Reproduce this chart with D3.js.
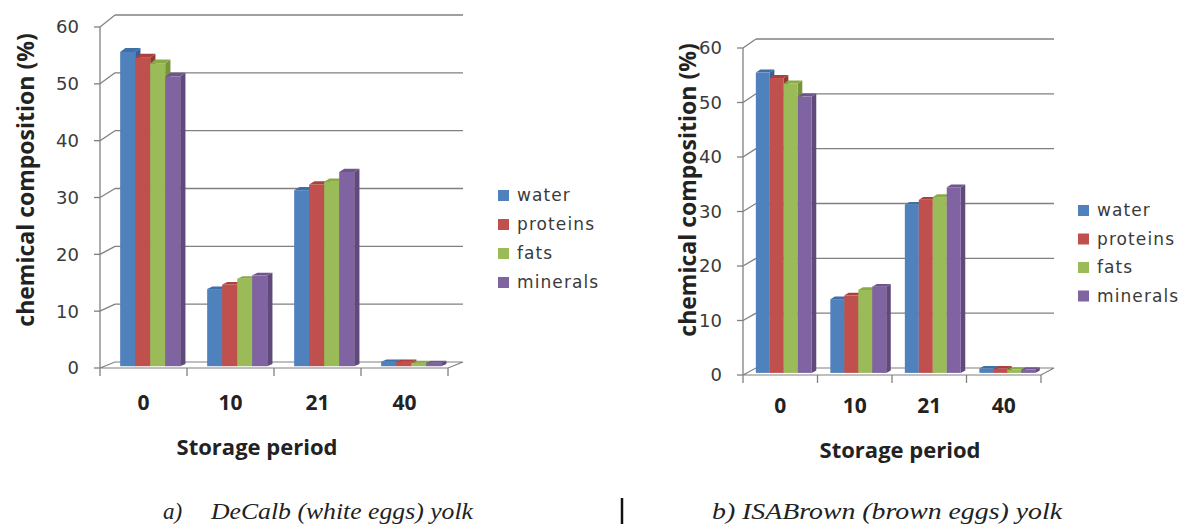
<!DOCTYPE html>
<html>
<head>
<meta charset="utf-8">
<script src="https://cdn.jsdelivr.net/npm/d3@7"></script>
<style>
  body { margin: 0; background: #fff; }
  svg { display: block; }
</style>
</head>
<body>
<svg id="chart" width="1185" height="527"></svg>
<script>
var periods = ["0", "10", "21", "40"];
var seriesNames = ["water", "proteins", "fats", "minerals"];
var seriesColors = ["#4f81bd", "#c0504d", "#9bbb59", "#8064a2"];
var yTicks = [0, 10, 20, 30, 40, 50, 60];

// a) DeCalb (white eggs) yolk
var waterA = [55.0, 13.5, 30.8, 0.8];
var proteinsA = [54.0, 14.3, 31.8, 0.8];
var fatsA = [53.0, 15.3, 32.3, 0.6];
var mineralsA = [50.7, 15.9, 34.0, 0.6];

// b) ISABrown (brown eggs) yolk
var waterB = [55.0, 13.5, 30.8, 0.8];
var proteinsB = [54.0, 14.2, 31.7, 0.8];
var fatsB = [53.0, 15.2, 32.2, 0.6];
var mineralsB = [50.6, 15.8, 34.0, 0.6];

var svg = d3.select("#chart");

function shade(c, k){
  var h = d3.hsl(c);
  return k > 0 ? h.brighter(k).formatHex() : h.darker(-k).formatHex();
}

function drawChart(g, o, values){
  var yF = d3.scaleLinear().domain([0, 60]).range([o.fy0, o.fy60]);
  var yB = d3.scaleLinear().domain([0, 60]).range([o.by0, o.by60]);
  var x0 = d3.scaleBand().domain(periods).range([o.fx0, o.fx1]);
  var bw = x0.bandwidth();
  var x1 = d3.scaleBand().domain(seriesNames)
    .range([bw * o.gStart, bw * (o.gStart + o.gWidth)]);

  // point at value v, depth t (0 front, 1 back), x in front coords
  function px(x, t){ return x + t * o.dx; }
  function py(v, t){ return yF(v) * (1 - t) + yB(v) * t; }

  var grid = "#808080";

  // floor
  g.append("path")
    .attr("d", "M" + o.fx0 + "," + yF(0) + "L" + o.fx1 + "," + yF(0) +
      "L" + (o.fx1 + o.dx) + "," + yB(0) + "L" + (o.fx0 + o.dx) + "," + yB(0) + "Z")
    .attr("fill", "#fff")
    .attr("stroke", grid)
    .attr("stroke-width", 1.2);

  // back wall and side wall gridlines
  yTicks.forEach(function(v){
    if(v == 0) return;
    g.append("line")
      .attr("x1", o.fx0 + o.dx).attr("y1", yB(v))
      .attr("x2", o.fx1 + o.dx).attr("y2", yB(v))
      .attr("stroke", grid).attr("stroke-width", 1.3);
    g.append("line")
      .attr("x1", o.fx0).attr("y1", yF(v))
      .attr("x2", o.fx0 + o.dx).attr("y2", yB(v))
      .attr("stroke", grid).attr("stroke-width", 1.3);
  });

  // y axis
  g.append("line")
    .attr("x1", o.fx0).attr("y1", yF(0))
    .attr("x2", o.fx0).attr("y2", yF(60))
    .attr("stroke", grid).attr("stroke-width", 1.3);
  yTicks.forEach(function(v){
    g.append("line")
      .attr("x1", o.fx0 - 6).attr("y1", yF(v))
      .attr("x2", o.fx0).attr("y2", yF(v))
      .attr("stroke", grid).attr("stroke-width", 1.3);
    g.append("text")
      .attr("x", o.fx0 - 21).attr("y", yF(v))
      .attr("dy", "0.36em")
      .attr("text-anchor", "end")
      .attr("font-family", "DejaVu Sans")
      .attr("font-size", 18)
      .attr("fill", "#3a3a3a")
      .text(v);
  });

  // x axis ticks
  periods.forEach(function(p, i){
    var xx = x0(p);
    g.append("line")
      .attr("x1", xx).attr("y1", yF(0))
      .attr("x2", xx).attr("y2", yF(0) + 8)
      .attr("stroke", grid).attr("stroke-width", 1.3);
    g.append("text")
      .attr("x", xx + bw / 2).attr("y", o.labelY)
      .attr("text-anchor", "middle")
      .attr("font-family", "Open Sans")
      .attr("font-weight", "bold")
      .attr("font-size", 21)
      .attr("fill", "#222")
      .text(p);
  });
  g.append("line")
    .attr("x1", o.fx1).attr("y1", yF(0))
    .attr("x2", o.fx1).attr("y2", yF(0) + 8)
    .attr("stroke", grid).attr("stroke-width", 1.3);

  // bars
  var t0 = 0.3, t1 = 0.65;
  periods.forEach(function(p, i){
    seriesNames.forEach(function(s, j){
      var v = values[j][i];
      var c = seriesColors[j];
      var xl = px(x0(p) + x1(s), t0);
      var xr = xl + x1.bandwidth();
      var d = (t1 - t0) * o.dx;
      var topF = py(v, t0), topB = py(v, t1);
      var botF = py(0, t0), botB = py(0, t1);
      g.append("path")
        .attr("d", "M" + xr + "," + topF + "L" + (xr + d) + "," + topB +
          "L" + (xr + d) + "," + botB + "L" + xr + "," + botF + "Z")
        .attr("fill", shade(c, -0.8));
      g.append("rect")
        .attr("x", xl).attr("y", topF)
        .attr("width", xr - xl).attr("height", botF - topF)
        .attr("fill", c);
      g.append("path")
        .attr("d", "M" + xl + "," + topF + "L" + xr + "," + topF +
          "L" + (xr + d) + "," + topB + "L" + (xl + d) + "," + topB + "Z")
        .attr("fill", shade(c, -0.4));
    });
  });

  // axis titles
  g.append("text")
    .attr("transform", "translate(" + o.titleX + "," + o.titleY + ") rotate(-90)")
    .attr("text-anchor", "middle")
    .attr("dy", "0.35em")
    .attr("font-family", "Open Sans")
    .attr("font-weight", "bold")
    .attr("font-size", 23)
    .attr("fill", "#222")
    .text("chemical composition (%)");
  g.append("text")
    .attr("x", o.xTitleX).attr("y", o.xTitleY)
    .attr("text-anchor", "middle")
    .attr("font-family", "Open Sans")
    .attr("font-weight", "bold")
    .attr("font-size", 22)
    .attr("fill", "#222")
    .text("Storage period");

  // legend
  seriesNames.forEach(function(s, j){
    var yy = o.legY + j * o.legStep;
    g.append("rect")
      .attr("x", o.legX).attr("y", yy - 5)
      .attr("width", 11).attr("height", 11)
      .attr("fill", seriesColors[j]);
    g.append("text")
      .attr("x", o.legX + 19).attr("y", yy)
      .attr("dy", "0.38em")
      .attr("font-family", "DejaVu Sans")
      .attr("font-size", 17)
      .attr("letter-spacing", 1.1)
      .attr("fill", "#3a3a3a")
      .text(s);
  });
}

drawChart(svg.append("g"), {
  fx0: 100, fx1: 448, dx: 15,
  fy0: 368, fy60: 27, by0: 362, by60: 15,
  gStart: 0.18, gWidth: 0.69,
  labelY: 410, titleX: 26, titleY: 180,
  xTitleX: 257, xTitleY: 455,
  legX: 498, legY: 195, legStep: 29
}, [waterA, proteinsA, fatsA, mineralsA]);

drawChart(svg.append("g"), {
  fx0: 743, fx1: 1041, dx: 13,
  fy0: 375, fy60: 48, by0: 368, by60: 39,
  gStart: 0.12, gWidth: 0.75,
  labelY: 413, titleX: 688, titleY: 190,
  xTitleX: 900, xTitleY: 458,
  legX: 1078, legY: 210, legStep: 28.5
}, [waterB, proteinsB, fatsB, mineralsB]);

// captions
var cap = svg.append("g")
  .attr("font-family", "Liberation Serif")
  .attr("font-style", "italic")
  .attr("font-size", 23)
  .attr("fill", "#222");
cap.append("text").attr("x", 163).attr("y", 519).text("a)");
cap.append("text").attr("x", 211).attr("y", 519)
  .attr("textLength", 262).attr("lengthAdjust", "spacingAndGlyphs")
  .text("DeCalb (white eggs) yolk");
cap.append("text").attr("x", 712).attr("y", 519)
  .attr("textLength", 350).attr("lengthAdjust", "spacingAndGlyphs")
  .text("b) ISABrown (brown eggs) yolk");
svg.append("line")
  .attr("x1", 622).attr("y1", 498).attr("x2", 622).attr("y2", 524)
  .attr("stroke", "#111").attr("stroke-width", 2.5);
</script>
</body>
</html>
